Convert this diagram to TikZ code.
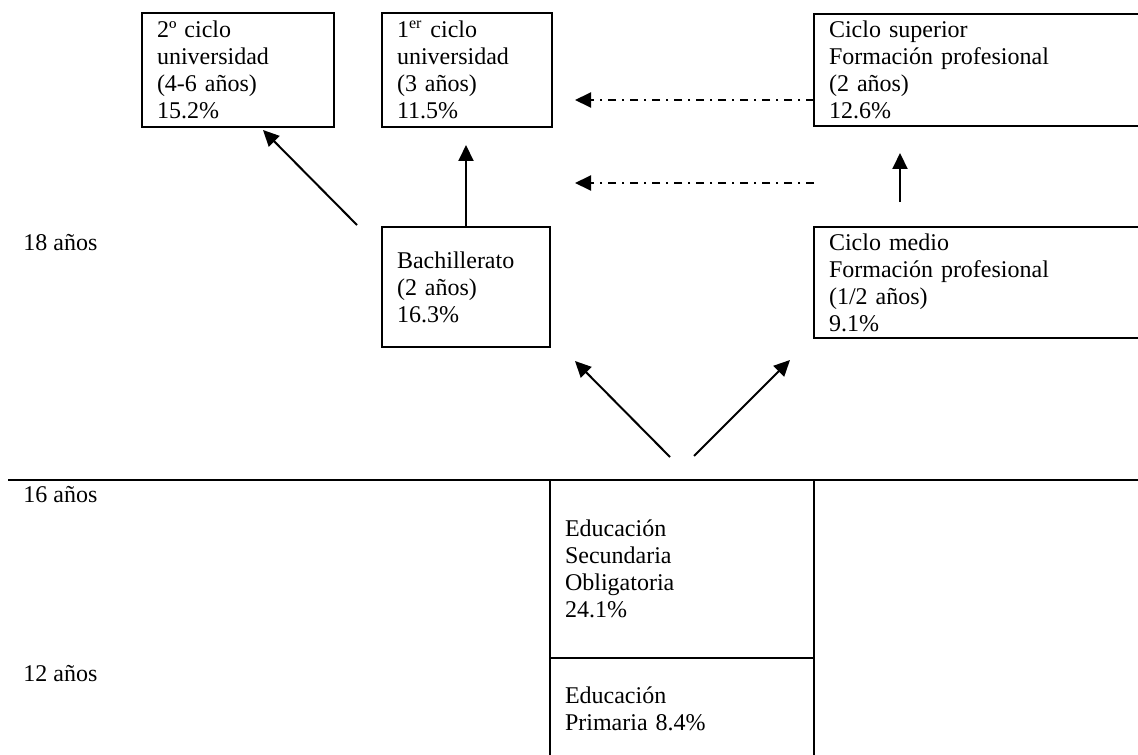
\documentclass[tikz,border=0pt]{standalone}
\usepackage{fontspec}
\setmainfont{Liberation Serif}
\usetikzlibrary{arrows.meta}

\begin{document}
\begin{tikzpicture}[x=0.5pt,y=-0.5pt,
  >={Triangle[length=8pt,width=7.5pt]},
  caja/.style={rectangle,draw=black,line width=1.2pt,anchor=north west,
    inner xsep=7.5pt,inner ysep=0pt,outer sep=0pt,align=left,
    font=\fontsize{12}{13.5}\selectfont},
  edad/.style={anchor=base west,inner sep=0pt,font=\fontsize{12}{13.5}\selectfont},
  flecha/.style={->,line width=1pt},
  puntos/.style={->,line width=1pt,dash pattern=on 4pt off 3pt on 1pt off 3pt}]
\useasboundingbox (0,0) rectangle (1138,754);

% estudios superiores
\node[caja,text width=81pt,minimum height=57pt] (uni2) at (142,13) {2º ciclo\\universidad\\(4-6 años)\\15.2\%};
\node[caja,text width=70pt,minimum height=57pt] (uni1) at (382,13) {1\textsuperscript{er} ciclo\\universidad\\(3 años)\\11.5\%};
\node[caja,text width=153pt,minimum height=56pt] (fpsup) at (814,14) {Ciclo superior\\Formación profesional\\(2 años)\\12.6\%};

% secundaria postobligatoria
\node[caja,text width=69pt,minimum height=60pt] (bach) at (382,227) {Bachillerato\\(2 años)\\16.3\%};
\node[caja,text width=153pt,minimum height=55.5pt] (fpmed) at (814,227) {Ciclo medio\\Formación profesional\\(1/2 años)\\9.1\%};

% tabla de abajo
\draw[line width=1.2pt] (8,480) -- (1140,480);
\node[caja,text width=117pt,minimum height=89pt] (eso) at (550,480) {Educación\\Secundaria\\Obligatoria\\24.1\%};
\node[caja,text width=117pt,minimum height=51pt] (prim) at (eso.south west) {Educación\\Primaria 8.4\%};

% edades
\node[edad] (e18) at (23,250) {18 años};
\node[edad] (e16) at (23,502) {16 años};
\node[edad] (e12) at (23,681) {12 años};

% flechas
\draw[flecha] ([shift={(-25,-2)}]bach.north west) -- ([shift={(25,3)}]uni2.south);
\draw[flecha,shorten >=9pt] (bach.north) -- (bach.north |- uni1.south);
\draw[puntos] ([shift={(0,30)}]fpsup.west) -- ([shift={(23,30)}]uni1.east);
\draw[puntos] ([shift={(0,-44)}]fpmed.north west) -- ([shift={(25,-44)}]bach.north east);
\draw[flecha] ([shift={(86,-25)}]fpmed.north west) -- ([shift={(86,27)}]fpsup.south west);
\draw[flecha] ([shift={(-12,-23)}]eso.north) -- ([shift={(25,14)}]bach.south east);
\draw[flecha] ([shift={(12,-24)}]eso.north) -- ([shift={(-24,22)}]fpmed.south west);
\end{tikzpicture}
\end{document}
